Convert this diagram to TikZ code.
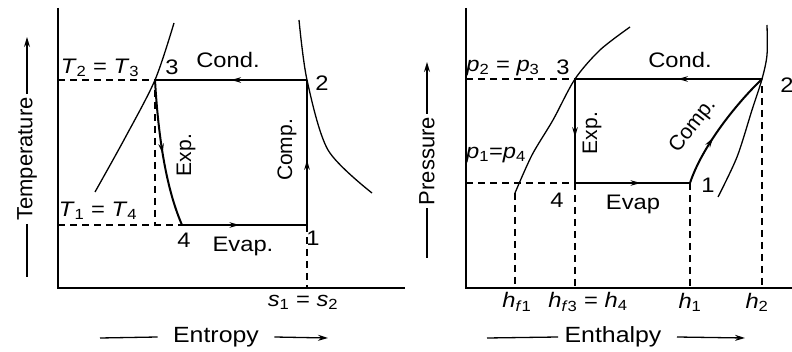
\documentclass[tikz,border=0pt]{standalone}
\usepackage{fontspec}
\setmainfont{Liberation Sans}
\usetikzlibrary{arrows.meta, decorations.markings, positioning}

\newcommand{\pv}[2]{\textit{#1}\textsubscript{#2}}

\begin{document}
\begin{tikzpicture}[
    x=1pt, y=-1pt,
    every node/.style={font=\fontsize{21}{25}\selectfont, inner sep=1pt},
    hl/.style={xscale=1.13},
    axis/.style={line width=1.9pt},
    satline/.style={line width=1.3pt},
    guide/.style={line width=1.4pt, dash pattern=on 7pt off 5pt},
    cycleline/.style={line width=2pt},
    midarrow/.style={postaction={decorate}, decoration={markings,
        mark=at position #1 with {\arrow{Stealth[length=10pt, width=5.5pt]}}}},
    lab/.style={inner sep=3pt, font=\fontsize{22}{26}\selectfont}
]
\useasboundingbox (0,0) rectangle (792,352);

% ---- T-s diagram ----
\coordinate (Ttop) at (58,8);
\coordinate (Torig) at (58,288);
\coordinate (Send) at (405,288);
\coordinate (T3) at (155,80);
\coordinate (T2) at (307,80);
\coordinate (T4) at (182,225);
\coordinate (T1) at (307,225);
\coordinate (Tl2) at (58,80);
\coordinate (Tl1) at (58,225);
\coordinate (Tv3) at (155,90);
\coordinate (Tv4) at (155,225);
\coordinate (Ts) at (307,288);

\draw[axis] (Ttop) -- (Torig) -- (Send);
\draw[satline] plot[smooth] coordinates {(95,192) (125,138) (T3) (174,23)};
\draw[satline] plot[smooth] coordinates {(299,20) (T2) (328,150) (372,193)};

\draw[guide] (Tl2) -- (T3);
\draw[guide] (Tl1) -- (T4);
\draw[guide] (Tv3) -- (Tv4);
\draw[guide] (T1) -- (Ts);

\draw[cycleline, midarrow=0.5] (T2) -- (T3);
\draw[cycleline, midarrow=0.5] (T3) .. controls (159,150) and (169,195) .. (T4);
\draw[cycleline, midarrow=0.46] (T4) -- (T1);
\draw[cycleline, midarrow=0.45] (T1) -- (T2);

\node[hl] (lT23) at (100,68) {\pv{T}{2} = \pv{T}{3}};
\node[hl] (lT3) at (172,67) {3};
\node[hl] (lTcond) at (228,60) {Cond.};
\node[hl] (lT2) at (322,83) {2};
\node[rotate=90] (lTexp) at (186,155) {Exp.};
\node[rotate=90] (lTcomp) at (287,150) {Comp.};
\node[hl] (lT14) at (98,211) {\pv{T}{1} = \pv{T}{4}};
\node[hl] (lT4) at (184,240) {4};
\node[hl] (lTevap) at (243,246) {Evap.};
\node[hl] (lT1) at (313,238) {1};
\node[hl] (lTs) at (303,302) {\pv{s}{1} = \pv{s}{2}};

\node[lab, rotate=90] (temp) at (27,159) {Temperature};
\coordinate (tempup) at (27,37);
\coordinate (templow) at (27,277);
\draw[line width=1.3pt, -{Stealth[length=10pt, width=6pt]}] (temp.east) -- (tempup);
\draw[line width=1.3pt] (temp.west) -- (templow);

\node[lab, hl] (entr) at (216,337) {Entropy};
\coordinate (entrl) at (100,338);
\coordinate (entrr) at (328,338);
\draw[line width=1.3pt] ([xshift=-12pt]entr.west) -- (entrl);
\draw[line width=1.3pt, -{Stealth[length=10pt, width=6pt]}] ([xshift=12pt]entr.east) -- (entrr);

% ---- p-h diagram ----
\coordinate (Ptop) at (466,8);
\coordinate (Porig) at (466,288);
\coordinate (Hend) at (792,288);
\coordinate (P3) at (575,79);
\coordinate (P2) at (762,79);
\coordinate (P4) at (575,183);
\coordinate (P1) at (690,183);
\coordinate (Pl2) at (466,79);
\coordinate (Pl1) at (466,183);
\coordinate (Pf) at (515,193);
\coordinate (Hf) at (515,288);
\coordinate (H4) at (575,288);
\coordinate (H1) at (690,288);
\coordinate (Pv2) at (762,86);
\coordinate (H2) at (762,288);

\draw[axis] (Ptop) -- (Porig) -- (Hend);
\draw[satline] plot[smooth] coordinates {(Pf) (532,155) (553,120) (P3) (600,50) (630,27)};
\draw[satline] plot[smooth] coordinates {(767,25) (767,55) (P2) (752,110) (737,157) (718,197)};

\draw[guide] (Pl2) -- (P3);
\draw[guide] (Pl1) -- (P4);
\draw[guide] (Pf) -- (Hf);
\draw[guide] (P4) -- (H4);
\draw[guide] (P1) -- (H1);
\draw[guide] (Pv2) -- (H2);

\draw[cycleline, midarrow=0.45] (P2) -- (P3);
\draw[cycleline, midarrow=0.56] (P3) -- (P4);
\draw[cycleline, midarrow=0.57] (P4) -- (P1);
\draw[cycleline, midarrow=0.4] (P1) .. controls (702,147) and (735,105) .. (P2);

\node[hl] (lP23) at (503,68) {\pv{p}{2} = \pv{p}{3}};
\node[hl] (lP3) at (563,67) {3};
\node[hl] (lPcond) at (680,60) {Cond.};
\node[hl] (lP2) at (787,85) {2};
\node[rotate=90] (lPexp) at (592,133) {Exp.};
\node[rotate=52] (lPcomp) at (693,126) {Comp.};
\node[hl] (lP14) at (496,155) {\pv{p}{1}=\pv{p}{4}};
\node[hl] (lP4) at (557,200) {4};
\node[hl] (lPevap) at (633,204) {Evap};
\node[hl] (lP1) at (708,185) {1};
\node[hl] (lHf) at (517,302) {\textit{h}\textsubscript{\textit{f}1}};
\node[hl] (lH4) at (588,302) {\textit{h}\textsubscript{\textit{f}3} = \pv{h}{4}};
\node[hl] (lH1) at (690,302) {\pv{h}{1}};
\node[hl] (lH2) at (757,302) {\pv{h}{2}};

\node[lab, rotate=90] (pres) at (427,161) {Pressure};
\coordinate (presup) at (427,62);
\coordinate (preslow) at (427,258);
\draw[line width=1.3pt, -{Stealth[length=10pt, width=6pt]}] (pres.east) -- (presup);
\draw[line width=1.3pt] (pres.west) -- (preslow);

\node[lab, hl] (enth) at (613,337) {Enthalpy};
\coordinate (enthl) at (487,338);
\coordinate (enthr) at (745,338);
\draw[line width=1.3pt] ([xshift=-3pt]enth.west) -- (enthl);
\draw[line width=1.3pt, -{Stealth[length=10pt, width=6pt]}] ([xshift=12pt]enth.east) -- (enthr);
\end{tikzpicture}
\end{document}
